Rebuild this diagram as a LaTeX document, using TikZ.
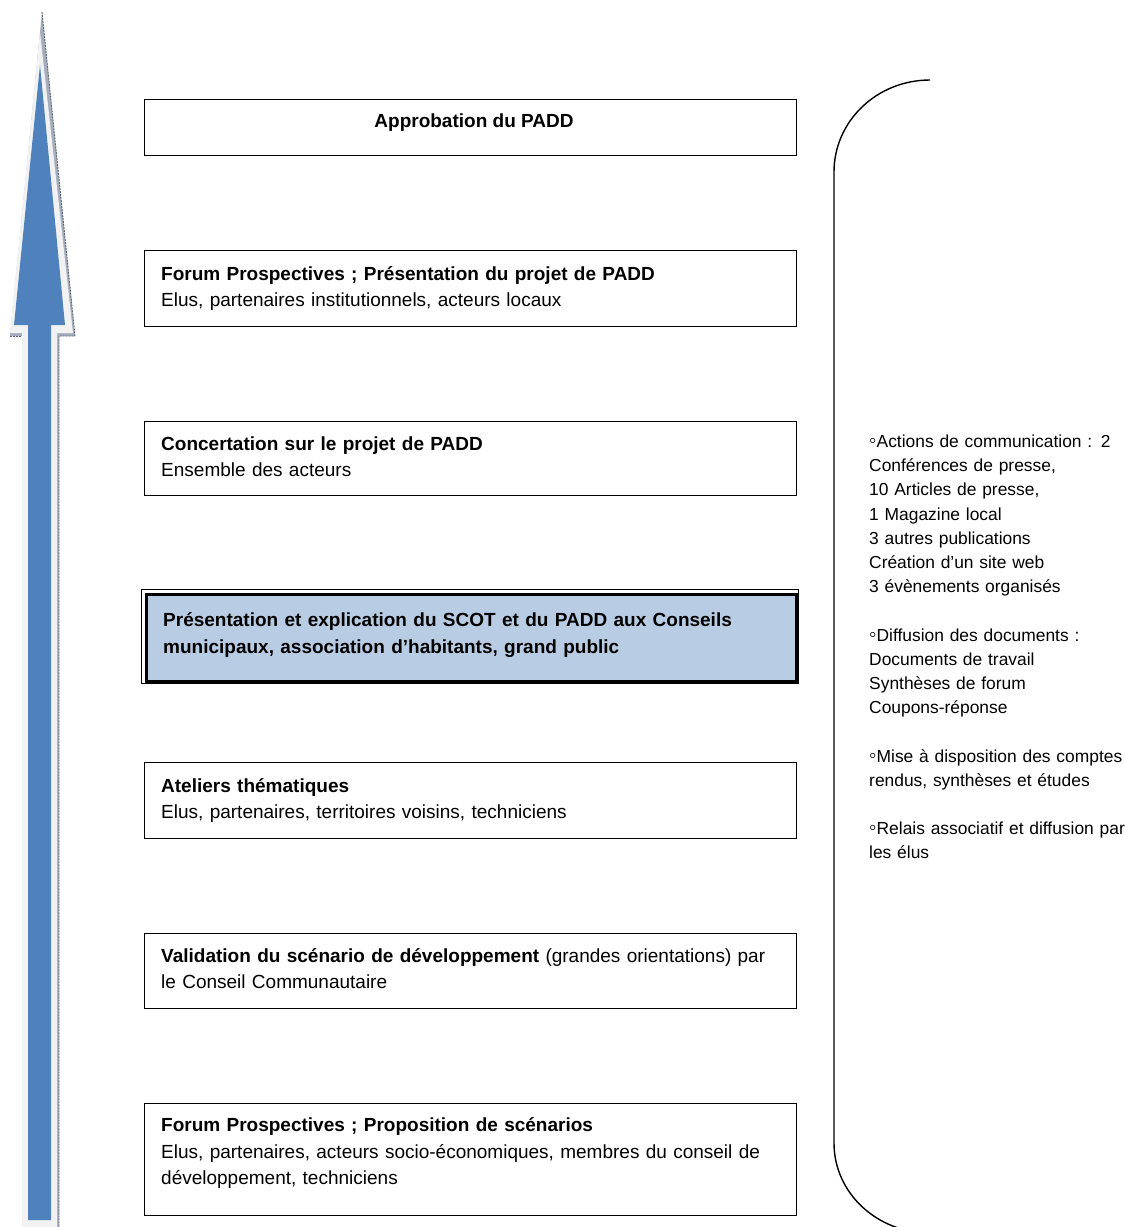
\documentclass[tikz,border=0pt]{standalone}
\usepackage{fontspec}
\setmainfont{Liberation Sans}
\definecolor{arrowblue}{HTML}{4F81BD}
\definecolor{lightrim}{HTML}{F2F2F2}
\definecolor{shadowgray}{HTML}{A6AEBB}
\definecolor{shadowedge}{HTML}{5A6478}
\definecolor{hlfill}{HTML}{B8CCE4}
\newcommand{\wbul}{{\fontsize{21}{24.2}\selectfont◦}}
\begin{document}
\begin{tikzpicture}[x=1pt,y=-1pt,
  box/.style={draw=black,line width=1.3pt,anchor=north west,inner sep=0pt},
  txt/.style={anchor=base west,inner sep=0pt,text width=#1,align=left,
    font=\fontsize{19}{26.7}\selectfont},
  side/.style={anchor=base west,inner sep=0pt,text width=258pt,align=left,
    font=\fontsize{17.4}{24.2}\selectfont},
  bracket/.style={draw=black,line width=1.4pt}]
\useasboundingbox (0,0) rectangle (1125,1227);
\begin{scope}
\clip (0,0) rectangle (1125,1227);
% arrow shadow
\fill[shadowgray] (42,12) -- (75,336) -- (59,336) -- (59,1240) -- (23,1240) -- (23,336) -- (10,336) -- cycle;
\draw[shadowedge,line width=0.9pt,dash pattern=on 2pt off 1pt] (42,12) -- (75,336) -- (59,336) -- (59,1240);
\draw[shadowedge,line width=0.9pt,dash pattern=on 2pt off 1pt] (10,336) -- (22,336);
% arrow light rim
\fill[lightrim] (40,32) -- (73,333) -- (57,333) -- (57,1240) -- (22,1240) -- (22,333) -- (10,333) -- cycle;
% arrow body
\fill[arrowblue] (40,65) -- (65,325) -- (51,325) -- (51,1220) -- (28,1220) -- (28,325) -- (14,325) -- cycle;
% right bracket
\coordinate (brtop) at (930,80);
\coordinate (brbot) at (930,1233);
\draw[bracket] (brtop) .. controls (877,80) and (834,121) .. (834,172)
  -- (834,1143) .. controls (834,1193) and (877,1233) .. (brbot);
\end{scope}

% boxes
\node[box,minimum width=652pt,minimum height=56pt] (b1) at (144,99) {};
\node[box,minimum width=652pt,minimum height=76pt] (b2) at (144,250) {};
\node[box,minimum width=652pt,minimum height=74pt] (b3) at (144,421) {};
\node[draw=black,line width=0.8pt,anchor=north west,inner sep=0pt,minimum width=657pt,minimum height=94pt] (b4o) at (141,589) {};
\node[draw=black,fill=hlfill,line width=3.2pt,anchor=north west,inner sep=0pt,minimum width=650pt,minimum height=87pt] (b4) at (145,593) {};
\node[box,minimum width=652pt,minimum height=76pt] (b5) at (144,762) {};
\node[box,minimum width=652pt,minimum height=75pt] (b6) at (144,933) {};
\node[box,minimum width=652pt,minimum height=112pt] (b7) at (144,1103) {};

% texts
\node[anchor=base,inner sep=0pt,font=\fontsize{19}{26.7}\selectfont\bfseries] (t1) at (474,127.5) {Approbation du PADD};
\node[txt=620pt] (t2) at (161,280) {\textbf{Forum Prospectives ; Présentation du projet de PADD}\\Elus, partenaires institutionnels, acteurs locaux};
\node[txt=620pt] (t3) at (161,450) {\textbf{Concertation sur le projet de PADD}\\Ensemble des acteurs};
\node[txt=620pt] (t4) at (163,626.5) {\textbf{Présentation et explication du SCOT et du PADD aux Conseils}\\\textbf{municipaux, association d’habitants, grand public}};
\node[txt=620pt] (t5) at (161,792) {\textbf{Ateliers thématiques}\\Elus, partenaires, territoires voisins, techniciens};
\node[txt=620pt] (t6) at (161,962) {\textbf{Validation du scénario de développement} (grandes orientations) par\\le Conseil Communautaire};
\node[txt=620pt] (t7) at (161,1131.3) {\textbf{Forum Prospectives ; Proposition de scénarios}\\Elus, partenaires, acteurs socio-économiques, membres du conseil de\\développement, techniciens};

\node[side] (side) at (869,447.5) {\wbul Actions de communication : 2\\Conférences de presse,\\10 Articles de presse,\\1 Magazine local\\3 autres publications\\Création d’un site web\\3 évènements organisés\\[24.2pt]\wbul Diffusion des documents :\\Documents de travail\\Synthèses de forum\\Coupons-réponse\\[24.2pt]\wbul Mise à disposition des comptes\\rendus, synthèses et études\\[24.2pt]\wbul Relais associatif et diffusion par\\les élus};
\end{tikzpicture}
\end{document}
